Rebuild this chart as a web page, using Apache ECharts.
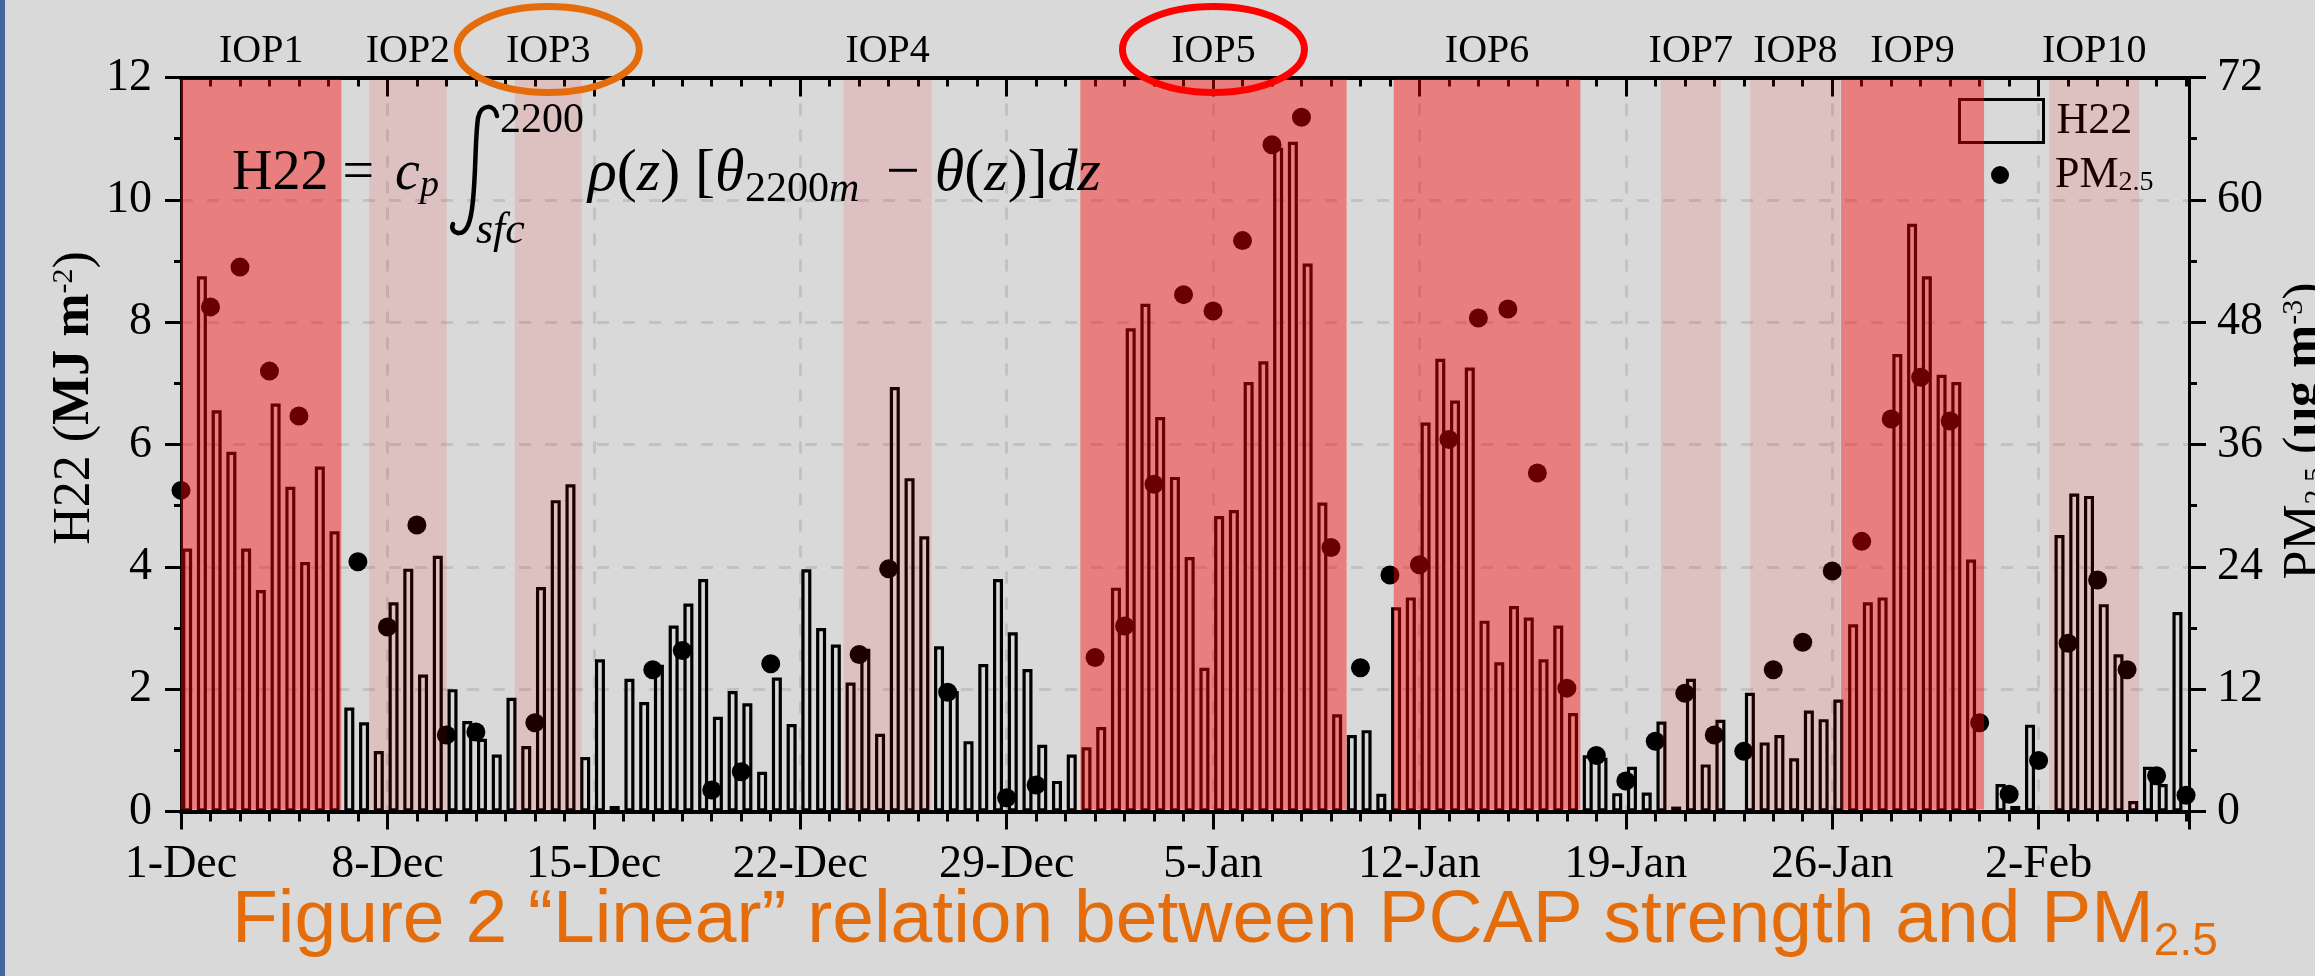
<!DOCTYPE html>
<html>
<head>
<meta charset="utf-8">
<script src="https://cdn.jsdelivr.net/npm/echarts@6/dist/echarts.min.js"></script>
<style>
  html, body { margin: 0; padding: 0; background: #d9d9d9; }
  #chart { width: 2315px; height: 976px; }
</style>
</head>
<body>
<div id="chart"></div>
<script>
// H22 (MJ m-2), one value every 12 h, first sounding 05 MST 1-Dec; null = no sounding
const h22 = [
  4.30, 8.75, 6.56, 5.88, 4.30, 3.62, 6.67, 5.31, 4.08, 5.64, 4.58, 1.70, 1.46, 0.99,    // 1-7 Dec
  3.42, 3.97, 2.24, 4.18, 2.00, 1.48, 1.19, 0.93, 1.86, 1.07, 3.67, 5.09, 5.35, 0.89,    // 8-14 Dec
  2.49, 0.09, 2.17, 1.79, 2.40, 3.04, 3.40, 3.80, 1.55, 1.97, 1.77, 0.65, 2.19, 1.43,    // 15-21 Dec
  3.96, 3.00, 2.73, 2.11, 2.66, 1.27, 6.94, 5.45, 4.50, 2.70, 1.97, 1.15, 2.41, 3.80,    // 22-28 Dec
  2.93, 2.33, 1.09, 0.50, 0.93, 1.05, 1.38, 3.66, 7.90, 8.30, 6.45, 5.47, 4.16, 2.35,    // 29 Dec-4 Jan
  4.83, 4.93, 7.02, 7.36, 10.85, 10.95, 8.96, 5.05, 1.59, 1.25, 1.33, 0.29, 3.34, 3.50,  // 5-11 Jan
  6.36, 7.40, 6.72, 7.26, 3.12, 2.44, 3.36, 3.17, 2.49, 3.04, 1.61, 0.92, 0.88, 0.30,    // 12-18 Jan
  0.73, 0.31, 1.47, 0.08, 2.17, 0.77, 1.50, null, 1.94, 1.13, 1.25, 0.87, 1.65, 1.51,    // 19-25 Jan
  1.83, 3.06, 3.42, 3.50, 7.48, 9.61, 8.75, 7.14, 7.02, 4.12, null, 0.45, 0.09, 1.42,    // 26 Jan-1 Feb
  null, 4.52, 5.20, 5.16, 3.39, 2.57, 0.17, 0.73, 0.45, 3.26                             // 2-6 Feb
];
const firstSounding = 5 / 24;   // days after 1-Dec 00 MST
const soundingStep = 0.5;

// daily PM2.5 (ug m-3) from 1-Dec; null = missing
const pm25 = [
  31.5, 49.5, 53.4, 43.2, 38.8, null, 24.5,    // 1-7 Dec
  18.1, 28.1, 7.5, 7.8, null, 8.7, null,       // 8-14 Dec
  null, null, 13.9, 15.8, 2.1, 3.9, 14.5,      // 15-21 Dec
  null, null, 15.4, 23.8, null, 11.7, null,    // 22-28 Dec
  1.35, 2.6, null, 15.1, 18.2, 32.1, 50.7,     // 29 Dec-4 Jan
  49.1, 56.0, 65.4, 68.1, 25.9, 14.1, 23.2,    // 5-11 Jan
  24.2, 36.5, 48.4, 49.3, 33.2, 12.1, 5.5,     // 12-18 Jan
  3.0, 6.9, 11.6, 7.5, 5.9, 13.9, 16.6,        // 19-25 Jan
  23.6, 26.5, 38.5, 42.6, 38.3, 8.7, 1.7,      // 26 Jan-1 Feb
  5.0, 16.5, 22.7, 13.9, 3.5, 1.6              // 2-7 Feb
];

const tickLabels = ['1-Dec', '8-Dec', '15-Dec', '22-Dec', '29-Dec', '5-Jan', '12-Jan', '19-Jan', '26-Jan', '2-Feb'];

// intensive observing periods, days after 1-Dec
const iopNames  = ['IOP1', 'IOP2', 'IOP3', 'IOP4', 'IOP5', 'IOP6', 'IOP7', 'IOP8', 'IOP9', 'IOP10'];
const iopStart  = [0, 6.38, 11.32, 22.47, 30.5, 41.13, 50.19, 53.22, 56.3, 63.36];
const iopEnd    = [5.44, 9.01, 13.59, 25.46, 39.53, 47.46, 52.22, 56.28, 61.15, 66.41];
const iopStrong = [1, 0, 0, 0, 1, 1, 0, 0, 1, 0];
const iopCircled = ['IOP3', 'IOP5'];

const serif = 'Liberation Serif';
const ringColor = { IOP3: '#e46c0a', IOP5: '#ff0000' };

const barData = h22.map((v, i) => [firstSounding + i * soundingStep, v]).filter(d => d[1] !== null);
const dotData = pm25.map((v, i) => [i, v]).filter(d => d[1] !== null);
const iopData = iopNames.map((n, i) => [iopStart[i], iopEnd[i], iopStrong[i]]);

function renderIop(params, api) {
  const name = iopNames[params.dataIndex];
  const p0 = api.coord([api.value(0), 12]);
  const p1 = api.coord([api.value(1), 0]);
  const cx = (p0[0] + p1[0]) / 2;
  const children = [
    {
      type: 'rect',
      shape: { x: p0[0], y: p0[1] + 2, width: p1[0] - p0[0], height: p1[1] - p0[1] - 4 },
      style: { fill: api.value(2) ? 'rgba(255,0,0,0.42)' : 'rgba(255,0,0,0.11)' }
    },
    {
      type: 'text',
      x: cx, y: p0[1] - 26,
      style: { text: name, fill: '#000', fontFamily: serif, fontSize: 40, align: 'center', verticalAlign: 'middle' }
    }
  ];
  if (iopCircled.includes(name)) {
    children.push({
      type: 'ellipse',
      shape: { cx: cx, cy: p0[1] - 28, rx: 91, ry: 43 },
      style: { fill: 'none', stroke: ringColor[name], lineWidth: 7 }
    });
  }
  return { type: 'group', children: children };
}

const tickStyle = { color: '#000', width: 3 };
const gridLine = { show: true, lineStyle: { color: '#c2c2c2', width: 3, type: [12, 14] } };

function xAxisDef(position, interval, len, extra) {
  return Object.assign({
    type: 'value', position: position, min: 0, max: 68.1, interval: interval,
    axisLine: { show: true, onZero: false, lineStyle: { color: '#000', width: 4 } },
    axisTick: { show: true, inside: position === 'top', length: len, lineStyle: tickStyle },
    axisLabel: { show: false },
    splitLine: { show: false }
  }, extra || {});
}

const t = (x, y, text, size, italic) => ({
  type: 'text', x: x, y: y, z: 30,
  style: { text: text, fontFamily: serif, fontStyle: italic ? 'italic' : 'normal', fontSize: size, fill: '#000', verticalAlign: 'middle' }
});

const richT = (x, y, text, size) => ({
  type: 'text', x: x, y: y, z: 30,
  style: {
    text: text, verticalAlign: 'middle',
    rich: {
      r: { fontFamily: serif, fontSize: size, fill: '#000' },
      i: { fontFamily: serif, fontStyle: 'italic', fontSize: size, fill: '#000' }
    }
  }
});

// integral sign drawn as a few curves
const intStroke = { fill: 'none', stroke: '#000', lineWidth: 4.5, lineCap: 'round' };
const curve = (x1, y1, cpx1, cpy1, cpx2, cpy2, x2, y2) => ({
  type: 'bezierCurve', z: 30,
  shape: { x1: x1, y1: y1, cpx1: cpx1, cpy1: cpy1, cpx2: cpx2, cpy2: cpy2, x2: x2, y2: y2 },
  style: intStroke
});

const chart = echarts.init(document.getElementById('chart'));
chart.setOption({
  backgroundColor: '#d9d9d9',
  animation: false,
  grid: { left: 181, top: 77.5, width: 2008, height: 734, outerBoundsMode: 'none' },
  xAxis: [
    xAxisDef('bottom', 7, 18, {
      axisLabel: {
        show: true, margin: 30, fontFamily: serif, fontSize: 46, color: '#000',
        formatter: v => tickLabels[v / 7] || ''
      },
      splitLine: gridLine
    }),
    xAxisDef('bottom', 1, 10),
    xAxisDef('top', 7, 19),
    xAxisDef('top', 1, 9)
  ],
  yAxis: [
    {
      type: 'value', position: 'left', min: 0, max: 12, interval: 2,
      axisLine: { show: true, onZero: false, lineStyle: { color: '#000', width: 3 } },
      axisTick: { show: true, length: 16, lineStyle: tickStyle },
      minorTick: { show: true, splitNumber: 2, length: 7, lineStyle: tickStyle },
      axisLabel: { margin: 29, fontFamily: serif, fontSize: 46, color: '#000' },
      splitLine: gridLine
    },
    {
      type: 'value', position: 'right', min: 0, max: 72, interval: 12,
      axisLine: { show: true, onZero: false, lineStyle: { color: '#000', width: 3 } },
      axisTick: { show: true, length: 17, lineStyle: tickStyle },
      minorTick: { show: true, splitNumber: 2, length: 8, lineStyle: tickStyle },
      axisLabel: { margin: 28, fontFamily: serif, fontSize: 46, color: '#000' },
      splitLine: { show: false }
    }
  ],
  legend: [
    {
      data: [{ name: 'H22', icon: 'rect', itemStyle: { color: 'rgba(0,0,0,0)', borderColor: '#000', borderWidth: 3 } }],
      left: 1958, top: 98, padding: 0, itemWidth: 84, itemHeight: 43, selectedMode: false,
      textStyle: { fontFamily: serif, fontSize: 44, color: '#000', padding: [0, 0, 0, 8] }
    },
    {
      data: [{ name: 'PM2.5', icon: 'circle', itemStyle: { color: '#000', opacity: 1 } }],
      left: 1991, top: 153, padding: 0, itemWidth: 84, itemHeight: 18, selectedMode: false, symbolKeepAspect: true,
      formatter: () => '{a|PM}{b|2.5}',
      textStyle: {
        padding: [0, 0, 0, 8],
        rich: {
          a: { fontFamily: serif, fontSize: 44, lineHeight: 44, verticalAlign: 'middle', color: '#000' },
          b: { fontFamily: serif, fontSize: 28, lineHeight: 14, verticalAlign: 'bottom', color: '#000' }
        }
      }
    }
  ],
  series: [
    {
      name: 'H22', type: 'bar', xAxisIndex: 0, yAxisIndex: 0, data: barData,
      barWidth: 10, z: 2, silent: true,
      itemStyle: { color: 'rgba(0,0,0,0)', borderColor: '#000', borderWidth: 3.2 }
    },
    {
      name: 'PM2.5', type: 'scatter', xAxisIndex: 0, yAxisIndex: 1, data: dotData,
      symbol: 'circle', symbolSize: 19, z: 3, silent: true,
      itemStyle: { color: '#000', opacity: 1 }
    },
    {
      name: 'IOP', type: 'custom', xAxisIndex: 0, yAxisIndex: 0, data: iopData,
      encode: { x: [0, 1], y: 2 }, renderItem: renderIop, z: 10, silent: true
    }
  ],
  graphic: [
    { type: 'rect', left: 0, top: 0, shape: { width: 5, height: 976 }, style: { fill: '#45689c' } },
    // formula: H22 = c_p ∫_sfc^2200 ρ(z) [θ_2200m − θ(z)] dz
    t(232, 174, 'H22 =', 56, false),
    t(395, 174, 'c', 56, true),
    t(420, 186, 'p', 38, true),
    curve(497, 116, 495, 104, 481, 103, 478, 118),
    curve(478, 118, 475, 140, 476, 170, 473, 200),
    curve(473, 200, 471, 222, 467, 234, 458, 233),
    curve(458, 233, 453, 232, 451, 228, 453, 224),
    t(500, 121, '2200', 42, false),
    t(476, 231, 'sfc', 44, true),
    richT(588, 174, '{i|\u03C1}{r|(}{i|z}{r|) [}{i|\u03B8}', 60),
    richT(745, 190, '{r|2200}{i|m}', 42),
    richT(886, 174, '{r|\u2212 }{i|\u03B8}{r|(}{i|z}{r|)]}{i|dz}', 60),
    // axis names
    {
      type: 'text', x: 75, y: 398, rotation: Math.PI / 2, z: 30,
      style: {
        text: '{a|H22 (}{b|MJ m}{s|-2}{a|)}', align: 'center', verticalAlign: 'middle',
        rich: {
          a: { fontFamily: serif, fontSize: 52, lineHeight: 52, verticalAlign: 'middle', fill: '#000' },
          b: { fontFamily: serif, fontWeight: 'bold', fontSize: 52, lineHeight: 52, verticalAlign: 'middle', fill: '#000' },
          s: { fontFamily: serif, fontSize: 30, lineHeight: 20, verticalAlign: 'top', fill: '#000' }
        }
      }
    },
    {
      type: 'text', x: 2305, y: 431, rotation: Math.PI / 2, z: 30,
      style: {
        text: '{a|PM}{b|2.5}{a| (}{c|\u03BCg m}{s|-3}{a|)}', align: 'center', verticalAlign: 'middle',
        rich: {
          a: { fontFamily: serif, fontSize: 52, lineHeight: 52, verticalAlign: 'middle', fill: '#000' },
          c: { fontFamily: serif, fontWeight: 'bold', fontSize: 52, lineHeight: 52, verticalAlign: 'middle', fill: '#000' },
          b: { fontFamily: serif, fontSize: 30, lineHeight: 14, verticalAlign: 'bottom', fill: '#000' },
          s: { fontFamily: serif, fontSize: 30, lineHeight: 20, verticalAlign: 'top', fill: '#000' }
        }
      }
    },
    // caption
    {
      type: 'text', x: 232, y: 921, z: 30,
      style: {
        text: '{a|Figure 2 \u201CLinear\u201D relation between PCAP strength and PM}{b|2.5}', verticalAlign: 'middle',
        rich: {
          a: { fontFamily: 'Liberation Sans', fontSize: 75, lineHeight: 88, verticalAlign: 'middle', fill: '#e46c0a' },
          b: { fontFamily: 'Liberation Sans', fontSize: 46, lineHeight: 10, verticalAlign: 'bottom', fill: '#e46c0a' }
        }
      }
    }
  ]
});
</script>
</body>
</html>
